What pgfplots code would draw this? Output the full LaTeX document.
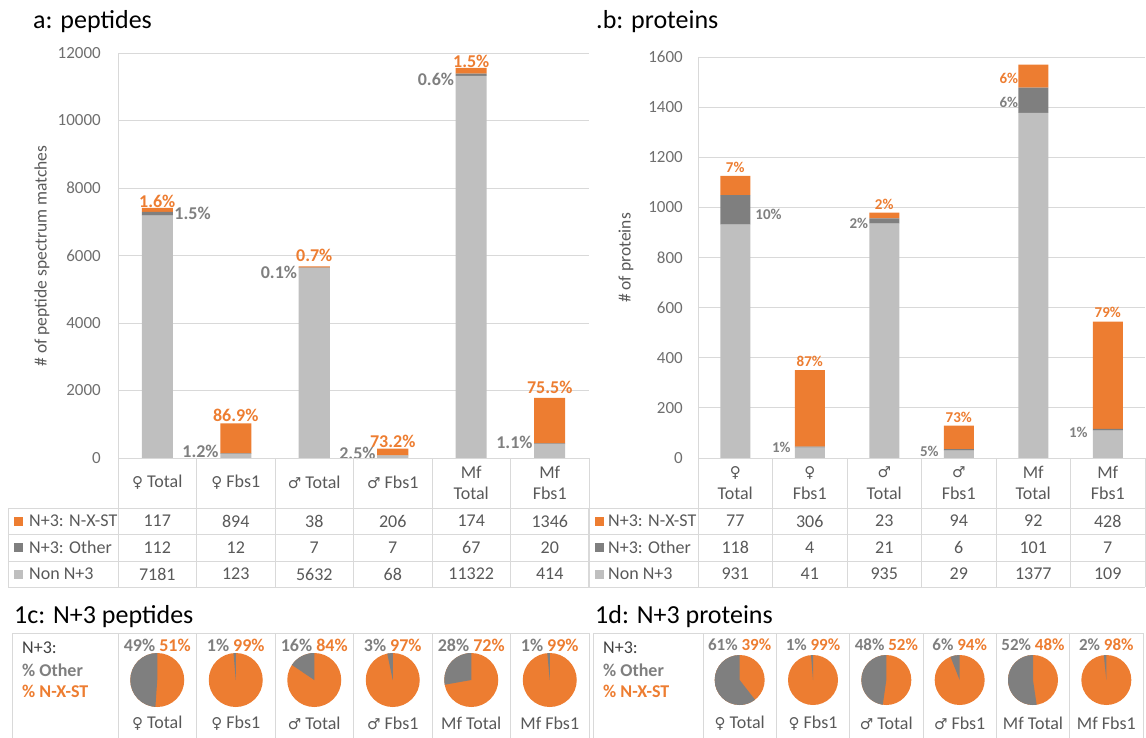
\documentclass[border=0pt]{standalone}
\usepackage{fontspec}
\setmainfont{Carlito}
\newfontfamily\symfont{DejaVu Sans}
\usepackage{pgfplots}
\pgfplotsset{compat=1.18}
\definecolor{orng}{HTML}{ED7D31}
\definecolor{dgray}{HTML}{7F7F7F}
\definecolor{lgray}{HTML}{BFBFBF}
\definecolor{gridc}{HTML}{D9D9D9}
\definecolor{txtc}{HTML}{595959}
\definecolor{tickc}{HTML}{6F6F6F}
\definecolor{hdc}{HTML}{404040}
\newcommand\fsz[1]{\fontsize{#1}{21.5}\selectfont}
\newcommand\femS{{\symfont\fontsize{15}{15}\selectfont ♀}}
\newcommand\malS{{\symfont\fontsize{15}{15}\selectfont ♂}}
% pie: #1 coordinate name, #2 radius (pt), #3 other, #4 nxst
\newcommand\piechart[4]{%
  \fill[orng] (#1) circle[radius=#2pt];
  \fill[dgray] (#1) -- ++(0pt,#2pt) arc[start angle=90, delta angle={360*(#3/(#3+#4))}, radius=#2pt] -- cycle;
}
\tikzset{
  labA/.style={font=\bfseries\fsz{18}, inner sep=0pt},
  labB/.style={font=\bfseries\fsz{15}, inner sep=0pt}}
\pgfplotsset{barax/.style={
  scale only axis, anchor=south west,
  xmin=-0.5, xmax=5.5, ymin=0,
  ybar stacked, xtick=\empty,
  ymajorgrids, grid style={gridc, line width=0.8pt},
  axis line style={draw=none},
  ytick pos=left, scaled y ticks=false,
  yticklabel style={font=\fsz{17}, text=tickc, inner sep=0pt},
  /pgf/number format/1000 sep={}, /pgf/number format/assume math mode=true,
  clip=false}}
\begin{document}
\begin{tikzpicture}
\path[use as bounding box] (0pt,0pt) rectangle (1146pt,-737pt);

% ---------- a: peptides ----------
\begin{axis}[barax, at={(118pt,-458pt)}, width=471pt, height=405pt,
  ymax=12000, ytick={0,2000,4000,6000,8000,10000,12000}, bar width=31pt,
  major tick length=0pt, yticklabel style={xshift=-17pt}]
\addplot[fill=lgray, draw=none] coordinates {(0,7181) (1,123) (2,5632) (3,68) (4,11322) (5,414)};
\addplot[fill=dgray, draw=none] coordinates {(0,112) (1,12) (2,7) (3,7) (4,67) (5,20)};
\addplot[fill=orng, draw=none] coordinates {(0,117) (1,894) (2,38) (3,206) (4,174) (5,1346)};
\node[labA, text=orng] at (axis cs:0,7615) {1.6\%};
\node[labA, text=orng] at (axis cs:1,1274) {86.9\%};
\node[labA, text=orng] at (axis cs:2,6015) {0.7\%};
\node[labA, text=orng] at (axis cs:3,504) {73.2\%};
\node[labA, text=orng] at (axis cs:4,11763) {1.5\%};
\node[labA, text=orng] at (axis cs:5,2100) {75.5\%};
\node[labA, text=dgray, anchor=west, xshift=17pt] at (axis cs:0,7259) {1.5\%};
\node[labA, text=dgray, anchor=east, xshift=-17pt] at (axis cs:1,207) {1.2\%};
\node[labA, text=dgray, anchor=east, xshift=-17pt] at (axis cs:2,5511) {0.1\%};
\node[labA, text=dgray, anchor=east, xshift=-17pt] at (axis cs:3,148) {2.5\%};
\node[labA, text=dgray, anchor=east, xshift=-17pt] at (axis cs:4,11230) {0.6\%};
\node[labA, text=dgray, anchor=east, xshift=-17pt] at (axis cs:5,474) {1.1\%};
\end{axis}

% ---------- b: proteins ----------
\begin{axis}[barax, at={(698pt,-458pt)}, width=447pt, height=401pt,
  ymax=1600, ytick={0,200,400,600,800,1000,1200,1400,1600}, bar width=30pt,
  major tick length=0pt, yticklabel style={xshift=-15pt}]
\addplot[fill=lgray, draw=none] coordinates {(0,931) (1,41) (2,935) (3,29) (4,1377) (5,109)};
\addplot[fill=dgray, draw=none] coordinates {(0,118) (1,4) (2,21) (3,6) (4,101) (5,7)};
\addplot[fill=orng, draw=none] coordinates {(0,77) (1,306) (2,23) (3,94) (4,92) (5,428)};
\node[labB, text=orng] at (axis cs:0,1161) {7\%};
\node[labB, text=orng] at (axis cs:1,387) {87\%};
\node[labB, text=orng] at (axis cs:2,1010) {2\%};
\node[labB, text=orng] at (axis cs:3,163) {73\%};
\node[labB, text=orng, anchor=east, xshift=-15pt] at (axis cs:4,1516) {6\%};
\node[labB, text=orng] at (axis cs:5,580) {79\%};
\node[labB, text=dgray, anchor=west, xshift=20pt] at (axis cs:0,974) {10\%};
\node[labB, text=dgray, anchor=east, xshift=-19pt] at (axis cs:1,44) {1\%};
\node[labB, text=dgray, anchor=east, xshift=-16pt] at (axis cs:2,937) {2\%};
\node[labB, text=dgray, anchor=east, xshift=-20pt] at (axis cs:3,28) {5\%};
\node[labB, text=dgray, anchor=east, xshift=-15pt] at (axis cs:4,1420) {6\%};
\node[labB, text=dgray, anchor=east, xshift=-20pt] at (axis cs:5,104) {1\%};
\end{axis}

% ---------- pie positions (axis in pixel units) ----------
\begin{axis}[at={(0pt,-737pt)}, anchor=south west, scale only axis,
  width=1146pt, height=737pt, xmin=0, xmax=1146, ymin=0, ymax=737,
  hide axis, clip=false]
\coordinate (L0) at (axis cs:157.25,57);
\coordinate (L1) at (axis cs:235.75,57);
\coordinate (L2) at (axis cs:314.25,57);
\coordinate (L3) at (axis cs:392.75,57);
\coordinate (L4) at (axis cs:471.25,57);
\coordinate (L5) at (axis cs:549.75,57);
\coordinate (R0) at (axis cs:739.67,57);
\coordinate (R1) at (axis cs:813,57);
\coordinate (R2) at (axis cs:886.33,57);
\coordinate (R3) at (axis cs:959.67,57);
\coordinate (R4) at (axis cs:1033,57);
\coordinate (R5) at (axis cs:1106.33,57);
\end{axis}
\piechart{L0}{27}{112}{117}
\piechart{L1}{27}{12}{894}
\piechart{L2}{27}{7}{38}
\piechart{L3}{27}{7}{206}
\piechart{L4}{27}{67}{174}
\piechart{L5}{27}{20}{1346}
\piechart{R0}{25}{118}{77}
\piechart{R1}{25}{4}{306}
\piechart{R2}{25}{21}{23}
\piechart{R3}{25}{6}{94}
\piechart{R4}{25}{101}{92}
\piechart{R5}{25}{7}{428}

% ---------- tables, titles, labels ----------
\begin{scope}[x=1pt, y=-1pt]
\node[anchor=base west, inner sep=0pt, font=\fsz{26}] at (33,28) {a: peptides};
\node[anchor=base west, inner sep=0pt, font=\fsz{26}] at (596,28) {.b: proteins};
\node[anchor=base west, inner sep=0pt, font=\fsz{26}] at (14,623) {1c: N+3 peptides};
\node[anchor=base west, inner sep=0pt, font=\fsz{26}] at (595,623) {1d: N+3 proteins};
\node[rotate=90, font=\fsz{17.5}, text=txtc, inner sep=0pt] at (42,256) {\# of peptide spectrum matches};
\node[rotate=90, font=\fsz{17.5}, text=txtc, inner sep=0pt] at (626,258) {\# of proteins};

\begin{scope}[gridc, line width=0.8pt]
\draw (118,53) -- (118,587);
\foreach \x in {196.5,275,353.5,432,510.5,589} \draw (\x,458) -- (\x,587);
\draw (8,508) -- (8,587);
\draw (118,458) -- (589,458);
\foreach \y in {508,534.5,561,587} \draw (8,\y) -- (589,\y);
\draw (698,57) -- (698,587);
\foreach \x in {772.5,847,921.5,996,1070.5,1145} \draw (\x,458) -- (\x,587);
\draw (588,508) -- (588,587);
\draw (698,458) -- (1145,458);
\foreach \y in {508,534.5,561,587} \draw (588,\y) -- (1145,\y);
\draw (12,633) -- (589,633);
\foreach \x in {12,118,196.5,275,353.5,432,510.5,589} \draw (\x,633) -- (\x,740);
\draw (593,633) -- (1143,633);
\foreach \x in {593,703,776.33,849.67,923,996.33,1069.67,1143} \draw (\x,633) -- (\x,740);
\end{scope}

\begin{scope}[font=\fsz{18}, text=txtc, inner sep=0pt, align=center]
\node at (157.25,482) {\femS\ Total};
\node at (235.75,482) {\femS\ Fbs1};
\node at (314.25,482) {\malS\ Total};
\node at (392.75,482) {\malS\ Fbs1};
\node at (471.25,483) {Mf\\Total};
\node at (549.75,483) {Mf\\Fbs1};
\foreach \v [count=\i from 0] in {117,894,38,206,174,1346} \node at (157.25+78.5*\i,521) {\v};
\foreach \v [count=\i from 0] in {112,12,7,7,67,20} \node at (157.25+78.5*\i,547.75) {\v};
\foreach \v [count=\i from 0] in {7181,123,5632,68,11322,414} \node at (157.25+78.5*\i,574) {\v};
\node at (735.25,483) {\femS\\Total};
\node at (809.75,483) {\femS\\Fbs1};
\node at (884.25,483) {\malS\\Total};
\node at (958.75,483) {\malS\\Fbs1};
\node at (1033.25,483) {Mf\\Total};
\node at (1107.75,483) {Mf\\Fbs1};
\foreach \v [count=\i from 0] in {77,306,23,94,92,428} \node at (735.25+74.5*\i,521) {\v};
\foreach \v [count=\i from 0] in {118,4,21,6,101,7} \node at (735.25+74.5*\i,547.75) {\v};
\foreach \v [count=\i from 0] in {931,41,935,29,1377,109} \node at (735.25+74.5*\i,574) {\v};
\node[anchor=west] at (29,521) {N+3: N-X-ST};
\node[anchor=west] at (29,547.75) {N+3: Other};
\node[anchor=west] at (29,574) {Non N+3};
\node[anchor=west] at (608,521) {N+3: N-X-ST};
\node[anchor=west] at (608,547.75) {N+3: Other};
\node[anchor=west] at (608,574) {Non N+3};
\foreach \t [count=\i from 0] in {\femS\ Total,\femS\ Fbs1,\malS\ Total,\malS\ Fbs1,Mf Total,Mf Fbs1} {
  \node at (157.25+78.5*\i,723) {\t};
  \node at (739.67+73.333*\i,723) {\t};
}
\end{scope}
\fill[orng] (14,516.5) rectangle (23,525.5);
\fill[dgray] (14,543.25) rectangle (23,552.25);
\fill[lgray] (14,569.5) rectangle (23,578.5);
\fill[orng] (595,516.5) rectangle (604,525.5);
\fill[dgray] (595,543.25) rectangle (604,552.25);
\fill[lgray] (595,569.5) rectangle (604,578.5);

\node[anchor=west, inner sep=0pt, font=\fsz{18}, text=hdc] at (22,648) {N+3:};
\node[anchor=west, inner sep=0pt, font=\bfseries\fsz{18}, text=dgray] at (22,670) {\% Other};
\node[anchor=west, inner sep=0pt, font=\bfseries\fsz{18}, text=orng] at (22,691) {\% N-X-ST};
\node[anchor=west, inner sep=0pt, font=\fsz{18}, text=hdc] at (603,648) {N+3:};
\node[anchor=west, inner sep=0pt, font=\bfseries\fsz{18}, text=dgray] at (603,670) {\% Other};
\node[anchor=west, inner sep=0pt, font=\bfseries\fsz{18}, text=orng] at (603,691) {\% N-X-ST};
\foreach \a/\b [count=\i from 0] in {49/51,1/99,16/84,3/97,28/72,1/99}
  \node[inner sep=0pt, font=\bfseries\fsz{18}] at (157.25+78.5*\i,645) {\textcolor{dgray}{\a\%} \textcolor{orng}{\b\%}};
\foreach \a/\b [count=\i from 0] in {61/39,1/99,48/52,6/94,52/48,2/98}
  \node[inner sep=0pt, font=\bfseries\fsz{17}] at (739.67+73.333*\i,645) {\textcolor{dgray}{\a\%} \textcolor{orng}{\b\%}};
\end{scope}
\end{tikzpicture}
\end{document}
